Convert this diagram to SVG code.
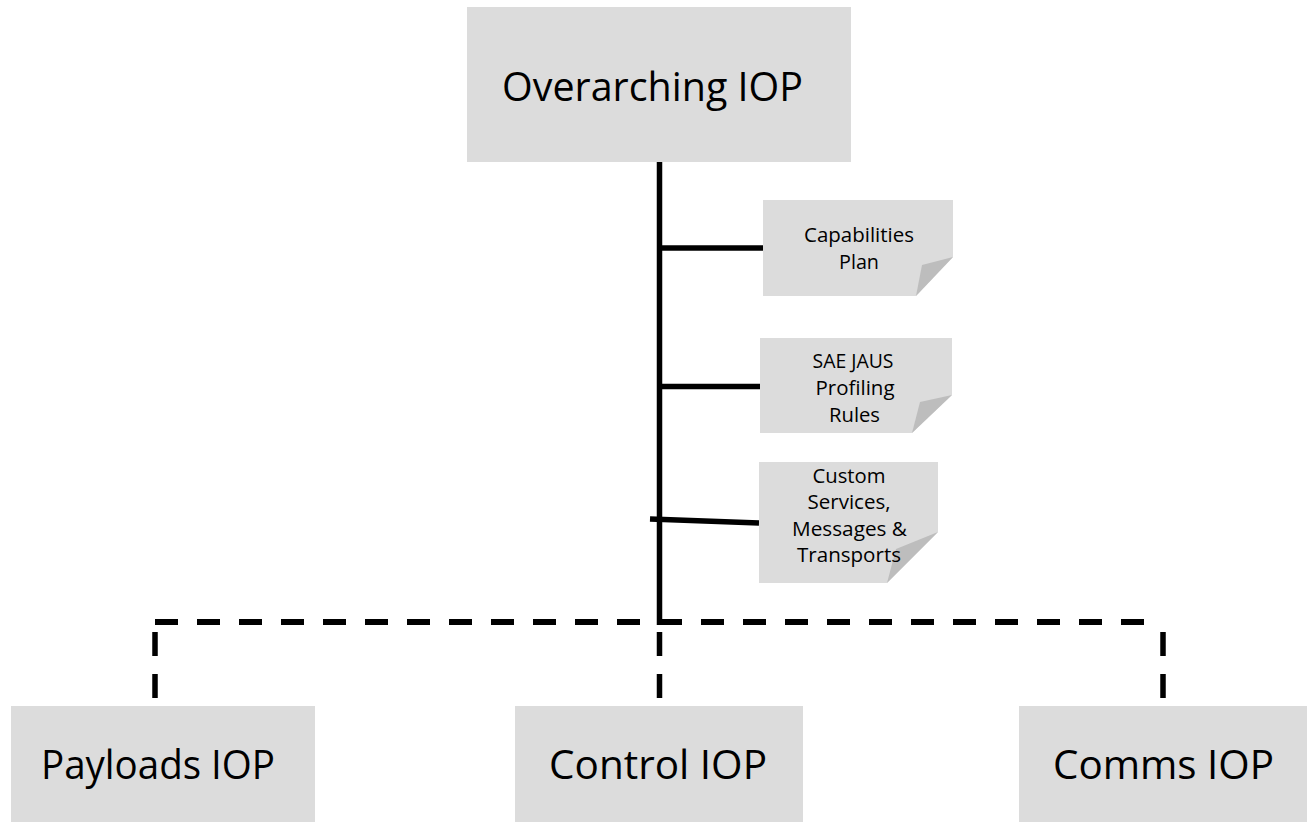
<svg xmlns="http://www.w3.org/2000/svg" width="1307" height="822" viewBox="0 0 1307 822">
<style>
.box{fill:#dcdcdc}
.fold{fill:#bdbdbd}
.big{font-family:"Open Sans","Liberation Sans",sans-serif;font-size:39.5px;fill:#000;text-anchor:middle}
.small{font-family:"Open Sans","Liberation Sans",sans-serif;font-size:20.5px;fill:#000;text-anchor:middle}
.solid{stroke:#000;stroke-width:5.5;fill:none}
.dash{stroke:#000;stroke-width:6;fill:none;stroke-dasharray:23 19}
.vdash{stroke:#000;stroke-width:5.5;fill:none;stroke-dasharray:24 18}
</style>
<rect width="1307" height="822" fill="#ffffff"/>
<g id="connectors">
<line class="solid" x1="659.5" y1="162" x2="659.5" y2="625"/>
<line class="solid" x1="659" y1="248" x2="763" y2="248"/>
<line class="solid" x1="659" y1="386.5" x2="760" y2="386.5"/>
<line class="solid" x1="650" y1="519" x2="759" y2="523"/>
<line class="dash" x1="155" y1="622" x2="1146" y2="622"/>
<line class="vdash" x1="155" y1="632" x2="155" y2="698"/>
<line class="vdash" x1="659.5" y1="632" x2="659.5" y2="698"/>
<line class="vdash" x1="1163" y1="632" x2="1163" y2="698"/>
</g>
<g id="overarching">
<rect class="box" x="467" y="7" width="384" height="155"/>
<text class="big" x="652.5" y="101" textLength="301" lengthAdjust="spacingAndGlyphs">Overarching IOP</text>
</g>
<g id="capabilities">
<polygon class="box" points="763,200 953,200 953,257 916,296 763,296"/>
<polygon class="fold" points="953,257 922,265 916,296"/>
<text class="small" x="859" y="242" textLength="110" lengthAdjust="spacingAndGlyphs">Capabilities</text>
<text class="small" x="859" y="269" textLength="40" lengthAdjust="spacingAndGlyphs">Plan</text>
</g>
<g id="jaus">
<polygon class="box" points="760,338 952,338 952,395 912,433 760,433"/>
<polygon class="fold" points="952,395 920,402 912,433"/>
<text class="small" x="853" y="368" textLength="81" lengthAdjust="spacingAndGlyphs">SAE JAUS</text>
<text class="small" x="855" y="395" textLength="79" lengthAdjust="spacingAndGlyphs">Profiling</text>
<text class="small" x="854.5" y="422" textLength="51" lengthAdjust="spacingAndGlyphs">Rules</text>
</g>
<g id="custom">
<polygon class="box" points="759,462 938,462 938,532 887,583 759,583"/>
<polygon class="fold" points="938,532 896,549 887,583"/>
<text class="small" x="849" y="483" textLength="73" lengthAdjust="spacingAndGlyphs">Custom</text>
<text class="small" x="849" y="509" textLength="83" lengthAdjust="spacingAndGlyphs">Services,</text>
<text class="small" x="849.5" y="536" textLength="115" lengthAdjust="spacingAndGlyphs">Messages &amp;</text>
<text class="small" x="849" y="562" textLength="104" lengthAdjust="spacingAndGlyphs">Transports</text>
</g>
<g id="payloads">
<rect class="box" x="11" y="706" width="304" height="116"/>
<text class="big" x="158" y="779" textLength="234" lengthAdjust="spacingAndGlyphs">Payloads IOP</text>
</g>
<g id="control">
<rect class="box" x="515" y="706" width="288" height="116"/>
<text class="big" x="658" y="779" textLength="218" lengthAdjust="spacingAndGlyphs">Control IOP</text>
</g>
<g id="comms">
<rect class="box" x="1019" y="706" width="288" height="116"/>
<text class="big" x="1163.5" y="779" textLength="221" lengthAdjust="spacingAndGlyphs">Comms IOP</text>
</g>
</svg>
